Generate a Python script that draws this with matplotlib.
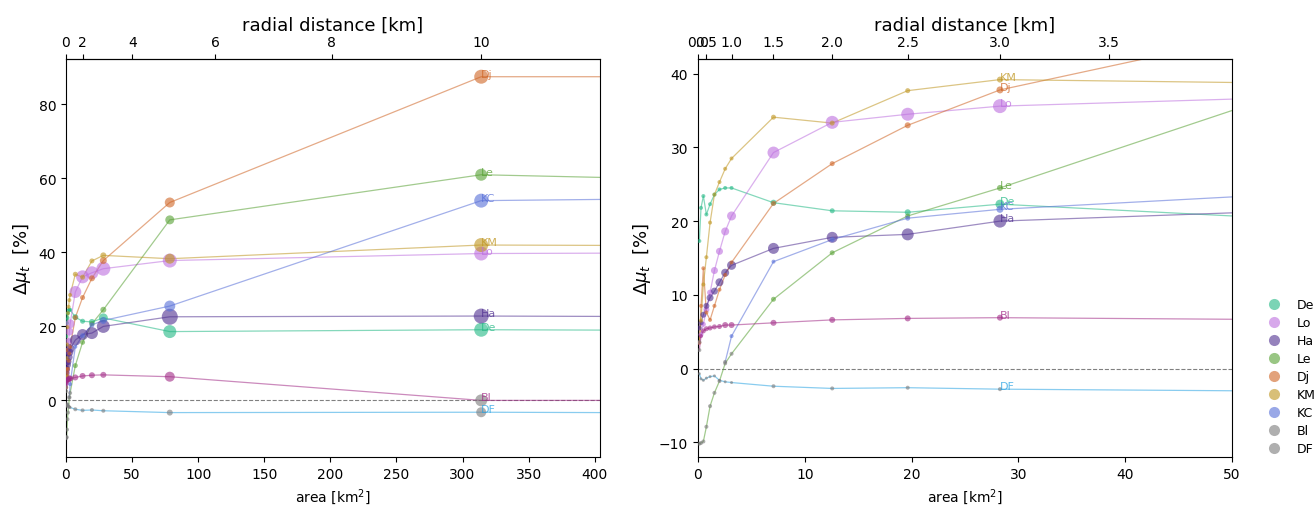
# -*- coding: utf-8 -*-
"""
Delta mu_t against area of the averaging disc, all sites.
Left: full range, right: zoom on the first 50 km^2.
"""
import numpy as np
import matplotlib.pyplot as plt
from matplotlib.lines import Line2D

nan = np.nan

# radius of the disc [km]
r_km = [0.2, 0.3, 0.4, 0.5, 0.6, 0.7, 0.8, 0.9, 1.0, 1.5, 2.0, 2.5, 3.0, 5.0, 10.0, 12.0]

# delta mu_t [%] per site
de = [17.3, 21.8, 23.4, 20.9, 22.3, 23.6, 24.3, 24.5, 24.5, 22.5, 21.4, 21.2, 22.3, 18.6, 19.1, 18.95]
lo = [3.5, 4.6, 6.0, 8.0, 10.3, 13.3, 15.9, 18.6, 20.7, 29.3, 33.4, 34.5, 35.6, 37.8, 39.7, 39.85]
ha = [5.5, 6.2, 7.3, 8.5, 9.6, 10.5, 11.7, 13.0, 14.0, 16.3, 17.8, 18.2, 20.0, 22.6, 22.8, 22.65]
le = [-10.2, -10.1, -9.9, -7.9, -5.1, -3.3, -1.7, 0.7, 2.0, 9.4, 15.7, 20.7, 24.5, 48.8, 61.0, 59.9]
dj = [3.5, 8.5, 13.6, 7.6, 6.6, 8.5, 10.7, 12.7, 14.4, 22.4, 27.8, 33.0, 37.8, 53.5, 87.5, 87.5]
km = [3.6, 6.5, 11.4, 15.1, 19.8, 23.6, 25.3, 27.1, 28.5, 34.1, 33.3, 37.7, 39.2, 38.3, 42.0, 41.85]
kc = [nan, nan, nan, nan, nan, nan, nan, 0.9, 4.4, 14.5, 17.5, 20.4, 21.6, 25.5, 54.0, 54.5]
bl = [2.5, 4.4, 5.1, 5.4, 5.5, 5.65, 5.7, 5.9, 5.9, 6.2, 6.6, 6.8, 6.9, 6.4, 0.0, 0.0]
df = [-0.7, -1.4, -1.6, -1.3, -1.1, -1.0, -1.6, -1.8, -1.9, -2.4, -2.7, -2.6, -2.8, -3.3, -3.2, -3.35]

# marker diameter [px] per point
de_size = [4, 4, 4, 4, 4, 4, 4, 4, 4, 6, 5, 6, 9, 13, 14, 14]
lo_size = [4, 5, 5, 6, 6, 7, 7, 8, 9, 12, 13, 13, 14, 14, 14, 14]
ha_size = [5, 5, 6, 6, 7, 7, 8, 8, 9, 11, 11, 12, 13, 16, 15, 15]
le_size = [4, 4, 4, 4, 4, 4, 4, 4, 4, 5, 5, 5, 6, 9, 12, 12]
dj_size = [4, 4, 4, 4, 4, 4, 4, 4, 4, 5, 5, 6, 7, 10, 14, 14]
km_size = [4, 4, 4, 4, 4, 4, 4, 4, 4, 5, 5, 5, 6, 10, 14, 14]
kc_size = [4, 4, 4, 4, 4, 4, 4, 4, 4, 4, 5, 5, 7, 11, 14, 14]
bl_size = [4, 4, 5, 5, 5, 5, 5, 6, 6, 6, 6, 6, 6, 10, 12, 12]
df_size = [3, 3, 3, 3, 3, 3, 3, 3, 3, 4, 4, 4, 4, 6, 10, 10]

# radii where the change is not significant (grey markers)
le_ns = [0.2, 0.3, 0.4, 0.5, 0.6, 0.7, 0.8, 0.9, 1.0]
km_ns = [0.2]
kc_ns = [0.9]
bl_ns = [0.2, 10.0, 12.0]
df_ns = r_km

names = ['De', 'Lo', 'Ha', 'Le', 'Dj', 'KM', 'KC', 'Bl', 'DF']
colors = ['#21b884', '#bd6fdf', '#4f2f90', '#56a032', '#cf6424', '#bf951f', '#566ed8', '#a12a86', '#29a3e3']
legend_colors = colors[:7] + ['#7a7a7a', '#7a7a7a']

values = [de, lo, ha, le, dj, km, kc, bl, df]
sizes = [de_size, lo_size, ha_size, le_size, dj_size, km_size, kc_size, bl_size, df_size]
not_sig = [[], [], [], le_ns, [], km_ns, kc_ns, bl_ns, df_ns]

r = np.array(r_km)
area = np.pi * r**2
GREY = '#7a7a7a'


def area_to_r(a):
    return np.sqrt(np.clip(a, 0, None) / np.pi)


def r_to_area(rr):
    return np.pi * np.asarray(rr)**2


def draw(ax, r_label):
    for name, c, v, s, ns in zip(names, colors, values, sizes, not_sig):
        v = np.array(v, dtype=float)
        ok = ~np.isnan(v)
        ax.plot(area[ok], v[ok], color=c, lw=0.9, alpha=0.55, zorder=2)
        mc = [GREY if rr in ns else c for rr in r[ok]]
        ms = (np.array(s, dtype=float)[ok] * 0.72)**2
        ax.scatter(area[ok], v[ok], s=ms, c=mc, alpha=0.6, lw=0, zorder=3)
        i = r_km.index(r_label)
        ax.text(area[i], v[i], name, color=c, fontsize=8, alpha=0.75,
                ha='left', va='baseline', zorder=4)
    ax.axhline(0, color='grey', ls='--', lw=0.8, zorder=1)
    ax.set_xlabel('area [km$^2$]', fontsize=10)
    ax.set_ylabel(r'$\Delta\mu_t$  [%]', fontsize=13)


fig = plt.figure(figsize=(13.14, 5.06), dpi=100)
ax1 = fig.add_axes([0.0502, 0.0949, 0.4064, 0.7866])
ax2 = fig.add_axes([0.5312, 0.0949, 0.4064, 0.7866])

draw(ax1, 10.0)
ax1.set_xlim(0, 404)
ax1.set_ylim(-15.3, 92.3)
ax1.set_xticks(np.arange(0, 401, 50))
ax1.set_yticks([0, 20, 40, 60, 80])
top1 = ax1.secondary_xaxis('top', functions=(area_to_r, r_to_area))
top1.set_xticks([0, 2, 4, 6, 8, 10])
top1.set_xlabel('radial distance [km]', fontsize=13)

draw(ax2, 3.0)
ax2.set_xlim(0, 50)
ax2.set_ylim(-12, 42)
ax2.set_xticks([0, 10, 20, 30, 40, 50])
ax2.set_yticks([-10, 0, 10, 20, 30, 40])
top2 = ax2.secondary_xaxis('top', functions=(area_to_r, r_to_area))
top2.set_xticks([0.0, 0.5, 1.0, 1.5, 2.0, 2.5, 3.0, 3.5])
top2.set_xticklabels(['0.0', '0.5', '1.0', '1.5', '2.0', '2.5', '3.0', '3.5'])
top2.set_xlabel('radial distance [km]', fontsize=13)

handles = [Line2D([], [], ls='none', marker='o', ms=8, mew=0, color=c, alpha=0.6)
           for c in legend_colors]
fig.legend(handles, names, loc='center left', bbox_to_anchor=(0.9515, 0.254),
           frameon=False, fontsize=9, labelspacing=0.4)

plt.savefig('out.png', dpi=100)
